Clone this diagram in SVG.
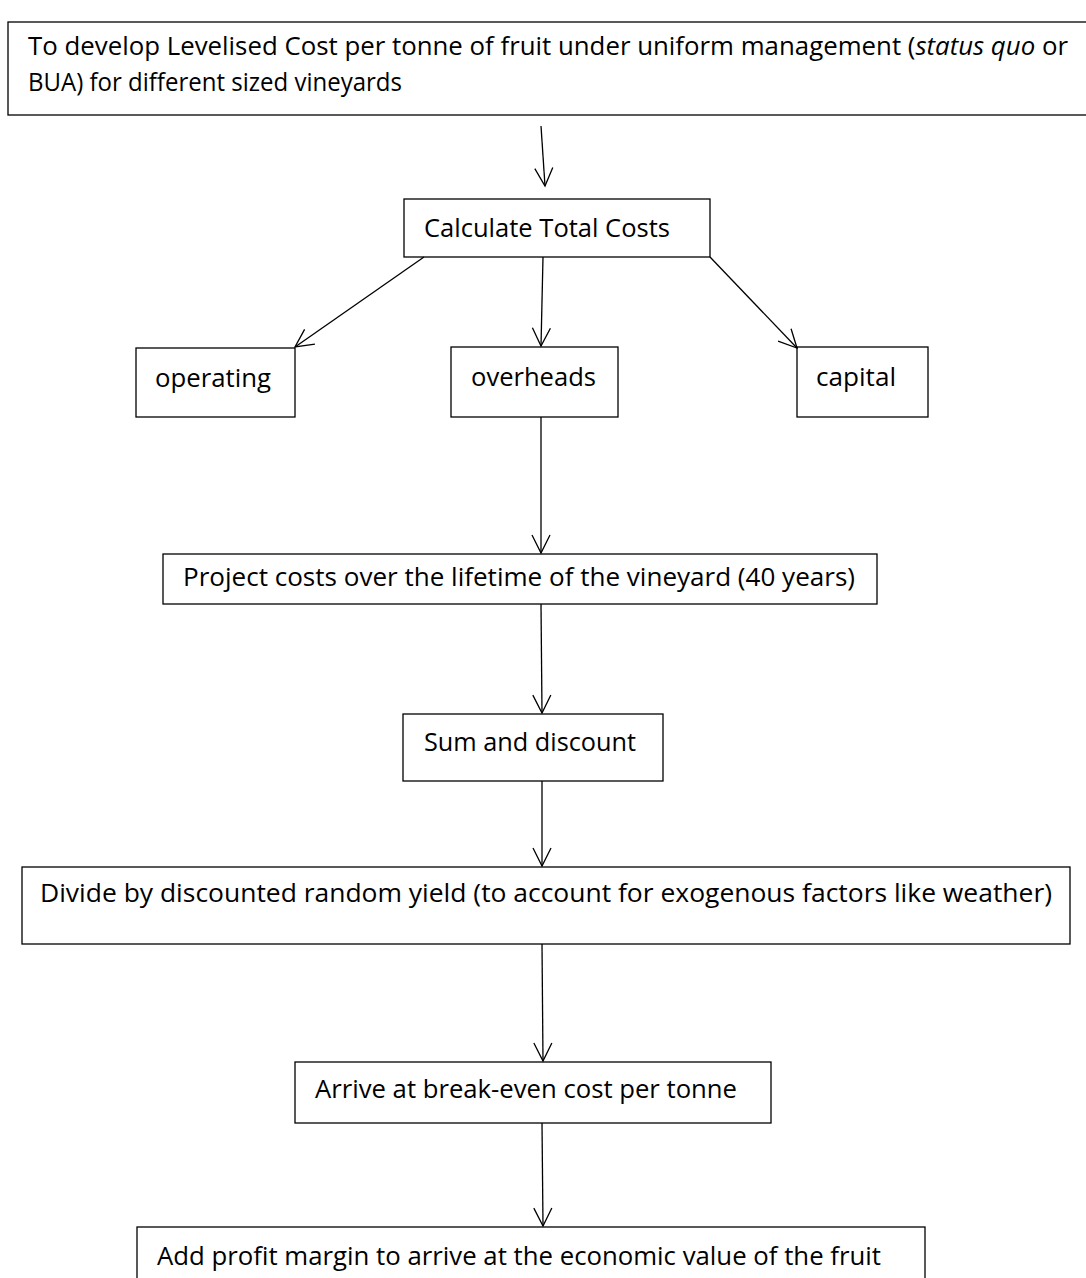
<svg xmlns="http://www.w3.org/2000/svg" width="1086" height="1278" viewBox="0 0 1086 1278">
  <defs>
    <style>
      .box { fill: #ffffff; stroke: #000000; stroke-width: 1.3; }
      .lbl { font-family: "Open Sans", "Liberation Sans", sans-serif; font-size: 25px; fill: #000000; }
      .edge { fill: none; stroke: #000000; stroke-width: 1.3; marker-end: url(#vhead); }
    </style>
    <marker id="vhead" markerUnits="userSpaceOnUse" markerWidth="24" markerHeight="24" refX="0" refY="0" viewBox="-20 -12 24 24" orient="auto">
      <path d="M-18,-9 L0,0 L-18,9" fill="none" stroke="#000000" stroke-width="1.3"/>
    </marker>
  </defs>
  <rect width="1086" height="1278" fill="#ffffff"/>

  <g id="goal">
    <rect class="box" x="8" y="22" width="1090" height="93"/>
    <text class="lbl" x="28" y="55" textLength="1040" lengthAdjust="spacingAndGlyphs">To develop Levelised Cost per tonne of fruit under uniform management (<tspan font-style="italic">status quo</tspan> or</text>
    <text class="lbl" x="28" y="91" textLength="374" lengthAdjust="spacingAndGlyphs">BUA) for different sized vineyards</text>
  </g>

  <g id="total-costs">
    <rect class="box" x="404" y="199" width="306" height="58"/>
    <text class="lbl" x="424" y="237" textLength="246" lengthAdjust="spacingAndGlyphs">Calculate Total Costs</text>
  </g>

  <g id="operating">
    <rect class="box" x="136" y="348" width="159" height="69"/>
    <text class="lbl" x="155" y="387" textLength="116" lengthAdjust="spacingAndGlyphs">operating</text>
  </g>

  <g id="overheads">
    <rect class="box" x="451" y="347" width="167" height="70"/>
    <text class="lbl" x="471" y="386" textLength="125" lengthAdjust="spacingAndGlyphs">overheads</text>
  </g>

  <g id="capital">
    <rect class="box" x="797" y="347" width="131" height="70"/>
    <text class="lbl" x="816" y="386" textLength="80" lengthAdjust="spacingAndGlyphs">capital</text>
  </g>

  <g id="project">
    <rect class="box" x="163" y="554" width="714" height="50"/>
    <text class="lbl" x="183" y="586" textLength="672" lengthAdjust="spacingAndGlyphs">Project costs over the lifetime of the vineyard (40 years)</text>
  </g>

  <g id="sum-discount">
    <rect class="box" x="403" y="714" width="260" height="67"/>
    <text class="lbl" x="424" y="751" textLength="212" lengthAdjust="spacingAndGlyphs">Sum and discount</text>
  </g>

  <g id="divide-yield">
    <rect class="box" x="22" y="867" width="1048" height="77"/>
    <text class="lbl" x="40" y="902" textLength="1012" lengthAdjust="spacingAndGlyphs">Divide by discounted random yield (to account for exogenous factors like weather)</text>
  </g>

  <g id="break-even">
    <rect class="box" x="295" y="1062" width="476" height="61"/>
    <text class="lbl" x="315" y="1098" textLength="422" lengthAdjust="spacingAndGlyphs">Arrive at break-even cost per tonne</text>
  </g>

  <g id="profit-margin">
    <rect class="box" x="137" y="1227" width="788" height="80"/>
    <text class="lbl" x="157" y="1265" textLength="724" lengthAdjust="spacingAndGlyphs">Add profit margin to arrive at the economic value of the fruit</text>
  </g>

  <g id="connectors">
    <line class="edge" x1="541" y1="126" x2="545" y2="186"/>
    <line class="edge" x1="424" y1="257" x2="295" y2="347"/>
    <line class="edge" x1="543" y1="257" x2="541" y2="346"/>
    <line class="edge" x1="710" y1="257" x2="797" y2="348"/>
    <line class="edge" x1="541" y1="417" x2="541" y2="553"/>
    <line class="edge" x1="541" y1="604" x2="542" y2="713"/>
    <line class="edge" x1="542" y1="781" x2="542" y2="866"/>
    <line class="edge" x1="542" y1="944" x2="543" y2="1061"/>
    <line class="edge" x1="542" y1="1123" x2="543" y2="1226"/>
  </g>
</svg>
